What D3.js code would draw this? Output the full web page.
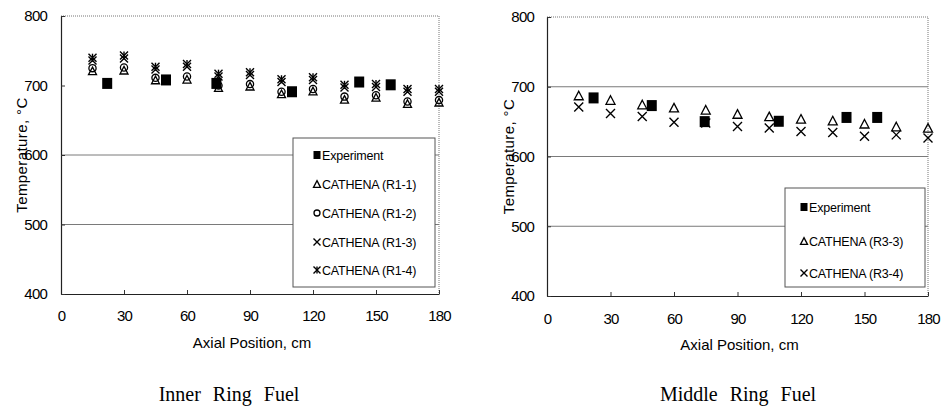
<!DOCTYPE html>
<html><head><meta charset="utf-8">
<script src="https://cdn.jsdelivr.net/npm/d3@7"></script>
<style>
body{margin:0;background:#fff;}
svg{display:block;}
text{fill:#000;}
</style></head>
<body>
<svg id="c" width="948" height="406"></svg>
<script>
// ---------- data ----------
const cathenaX = [15,30,45,60,75,90,105,120,135,150,165,180];
const xTicks = [0,30,60,90,120,150,180];
const yTicks = [400,500,600,700,800];

// Inner ring
const innerExpX = [22,50,74,110,142,157];
const innerExpY = [703,708,703,691,705,701];
const innerR1_1 = [721,722,708,709,697,699,688,692,680,683,674,676];
const innerR1_2 = [725,726,711,713,700,702,691,695,684,686,677,679];
const innerR1_3 = [736,739,723,727,713,715,705,708,697,698,691,691];
const innerR1_4 = [740,743,727,731,717,719,709,712,701,702,695,695];
const innerGrid = [500,600];

// Middle ring
const midExpX = [22,49.5,74.5,109.5,141.5,156];
const midExpY = [684,673,650,650.5,656,656];
const midR3_3 = [687.5,681,674.5,670,667,661,657.5,654,651.5,647,643,641];
const midR3_4 = [671,661.5,657.5,649,648,643,641,636,634.5,629,631,626.5];
const midGrid = [500,600,700];

const innerLegend = ["Experiment","CATHENA (R1-1)","CATHENA (R1-2)","CATHENA (R1-3)","CATHENA (R1-4)"];
const midLegend = ["Experiment","CATHENA (R3-3)","CATHENA (R3-4)"];

const svg = d3.select("#c");
const FONT = "'Liberation Sans', Arial, sans-serif";

// ---------- marker painters ----------
function square(g,x,y,w,h){g.append("rect").attr("x",x-w/2).attr("y",y-h/2).attr("width",w).attr("height",h).attr("fill","#000");}
function triangle(g,x,y,s){
  const h=s*0.95;
  g.append("path").attr("d",`M${x},${y-h/2}L${x+s/2},${y+h/2}L${x-s/2},${y+h/2}Z`)
   .attr("fill","none").attr("stroke","#000").attr("stroke-width",1.3);
}
function circle(g,x,y,r){g.append("circle").attr("cx",x).attr("cy",y).attr("r",r).attr("fill","none").attr("stroke","#000").attr("stroke-width",1.3);}
function cross(g,x,y,s){
  const h=s/2;
  g.append("path").attr("d",`M${x-h},${y-h}L${x+h},${y+h}M${x+h},${y-h}L${x-h},${y+h}`)
   .attr("stroke","#000").attr("stroke-width",1.4).attr("fill","none");
}
function star(g,x,y,s){
  cross(g,x,y,s);
  g.append("path").attr("d",`M${x},${y-s/2}L${x},${y+s/2}`).attr("stroke","#000").attr("stroke-width",1.4);
}

// ---------- panel ----------
function panel(o){
  const x = d3.scaleLinear().domain([0,180]).range([o.x0,o.x1]);
  const y = d3.scaleLinear().domain([400,800]).range([o.y0,o.y1]);
  const g = svg.append("g");
  g.selectAll(".grid").data(o.grid).enter().append("line")
    .attr("x1",o.x0).attr("x2",o.x1).attr("y1",d=>y(d)).attr("y2",d=>y(d))
    .attr("stroke","#7a7a7a").attr("stroke-width",1);
  g.append("path").attr("d",`M${o.x0},${o.y1}H${o.x1}V${o.y0}`)
    .attr("fill","none").attr("stroke","#777").attr("stroke-width",1).attr("stroke-dasharray","1,1");
  const xa = g.append("g").attr("transform",`translate(0,${o.y0})`)
    .call(d3.axisBottom(x).tickValues(xTicks).tickSizeInner(-4).tickSizeOuter(0).tickPadding(o.xpad));
  const ya = g.append("g").attr("transform",`translate(${o.x0},0)`)
    .call(d3.axisLeft(y).tickValues(yTicks).tickSizeInner(-4).tickSizeOuter(0).tickPadding(o.ypad));
  [xa,ya].forEach(a=>{
    a.select(".domain").attr("stroke","#222").attr("stroke-width",1.2);
    a.selectAll(".tick line").attr("stroke","#333");
    a.selectAll("text").attr("font-family",FONT).attr("font-size",15).attr("letter-spacing","-0.8px").attr("fill","#000");
  });
  g.append("text").attr("x",(o.x0+o.x1)/2+2).attr("y",o.y0+54).attr("text-anchor","middle")
    .attr("font-family",FONT).attr("font-size",15).text("Axial Position, cm");
  g.append("text").attr("transform",`translate(${o.ytx},${(o.y0+o.y1)/2}) rotate(-90)`).attr("text-anchor","middle")
    .attr("font-family",FONT).attr("font-size",15).attr("letter-spacing","0.4px").text("Temperature, °C");
  g.append("text").attr("x",o.capX).attr("y",401).attr("text-anchor","middle")
    .attr("font-family","'Liberation Serif','Times New Roman',serif").attr("font-size",20)
    .attr("word-spacing","7px").text(o.caption);
  return {g,x,y};
}

// ---------- Inner ring ----------
const L = panel({x0:61,x1:439,y0:294,y1:16,grid:innerGrid,xpad:16,ypad:14,ytx:27,capX:229,caption:"Inner Ring Fuel"});
const lm = L.g.append("g");
cathenaX.forEach((cx,i)=>{
  const px=L.x(cx);
  triangle(lm,px,L.y(innerR1_1[i]),8);
  circle(lm,px,L.y(innerR1_2[i]),3.6);
  cross(lm,px,L.y(innerR1_3[i]),8);
  star(lm,px,L.y(innerR1_4[i]),8);
});
innerExpX.forEach((ex,i)=>square(lm,L.x(ex),L.y(innerExpY[i]),10,11));
const lg = L.g.append("g");
lg.append("rect").attr("x",293).attr("y",138).attr("width",142).attr("height",149)
  .attr("fill","#fff").attr("stroke","#555").attr("stroke-width",1);
const lItemY = [155,184,213,242,270];
innerLegend.forEach((t,i)=>{
  const yy=lItemY[i], sx=317;
  if(i===0) square(lg,sx,yy,7,8);
  else if(i===1) triangle(lg,sx,yy,7);
  else if(i===2) circle(lg,sx,yy,3);
  else if(i===3) cross(lg,sx,yy,7);
  else star(lg,sx,yy,7);
  lg.append("text").attr("x",322).attr("y",yy+4.5).attr("font-family",FONT).attr("font-size",12.5)
    .attr("letter-spacing","-0.2px").text(t);
});

// ---------- Middle ring ----------
const R = panel({x0:547,x1:928,y0:296,y1:17,grid:midGrid,xpad:17,ypad:13,ytx:514,capX:738,caption:"Middle Ring Fuel"});
const rm = R.g.append("g");
cathenaX.forEach((cx,i)=>{
  const px=R.x(cx);
  triangle(rm,px,R.y(midR3_3[i]),9);
  cross(rm,px,R.y(midR3_4[i]),9);
});
midExpX.forEach((ex,i)=>square(rm,R.x(ex),R.y(midExpY[i]),10,11));
const rg = R.g.append("g");
rg.append("rect").attr("x",785).attr("y",188).attr("width",140).attr("height",99)
  .attr("fill","#fff").attr("stroke","#555").attr("stroke-width",1);
const rItemY = [207,241,273];
midLegend.forEach((t,i)=>{
  const yy=rItemY[i], sx=804;
  if(i===0) square(rg,sx,yy,7,8);
  else if(i===1) triangle(rg,sx,yy,7);
  else cross(rg,sx,yy,7);
  rg.append("text").attr("x",809).attr("y",yy+4.5).attr("font-family",FONT).attr("font-size",12.5)
    .attr("letter-spacing","-0.2px").text(t);
});
</script>
</body></html>
